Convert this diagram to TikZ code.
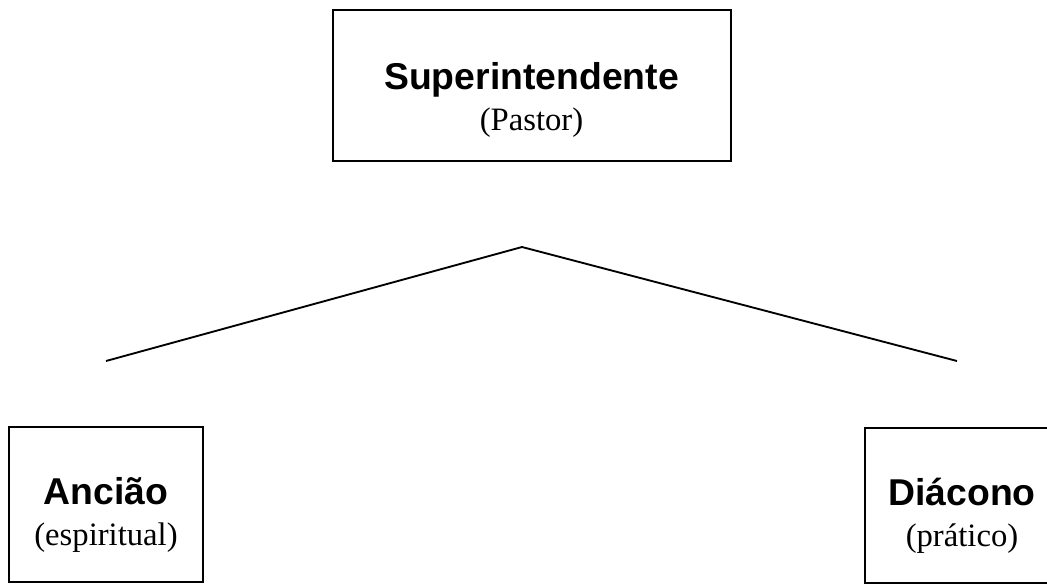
\documentclass[tikz,border=0pt]{standalone}
\usepackage{fontspec}
\setmainfont{Liberation Serif}
\newfontfamily\headfont{Liberation Sans}
\usetikzlibrary{positioning}

\tikzset{
  office/.style={draw=black, line width=1.5pt, inner sep=0pt,
    minimum width=145.5pt, minimum height=116.25pt},
  roletext/.style={align=center, inner sep=0pt, font=\fontsize{24.5}{31}\selectfont},
  branch/.style={draw=black, line width=1.4pt}
}
\newcommand{\roletitle}[1]{{\headfont\bfseries\fontsize{28}{31}\selectfont #1}}

\begin{document}
\begin{tikzpicture}[x=0.75pt, y=-0.75pt]
\clip (0,0) rectangle (1047,583);
\fill[white] (0,0) rectangle (1047,583);
% boxes
\node[office, minimum width=298.5pt, minimum height=113.25pt] (pastor) at (531.5,85) {};
\node[office] (anciao) at (106,504.5) {};
\node[office] (diacono) at (962,505) {};
% texts
\node[roletext] (pastortxt) at ([yshift=-11pt]pastor.center) {\roletitle{Superintendente}\\(Pastor)};
\node[roletext] (anciaotxt) at ([yshift=-8pt]anciao.center) {\roletitle{Ancião}\\(espiritual)};
\node[roletext] (diaconotxt) at ([yshift=-8pt]diacono.center) {\roletitle{Diácono}\\(prático)};
% lines
\coordinate (apex) at (522,247);
\coordinate (lend) at (106,361);
\coordinate (rend) at (957,361);
\draw[branch] (lend) -- (apex) -- (rend);
\end{tikzpicture}
\end{document}
